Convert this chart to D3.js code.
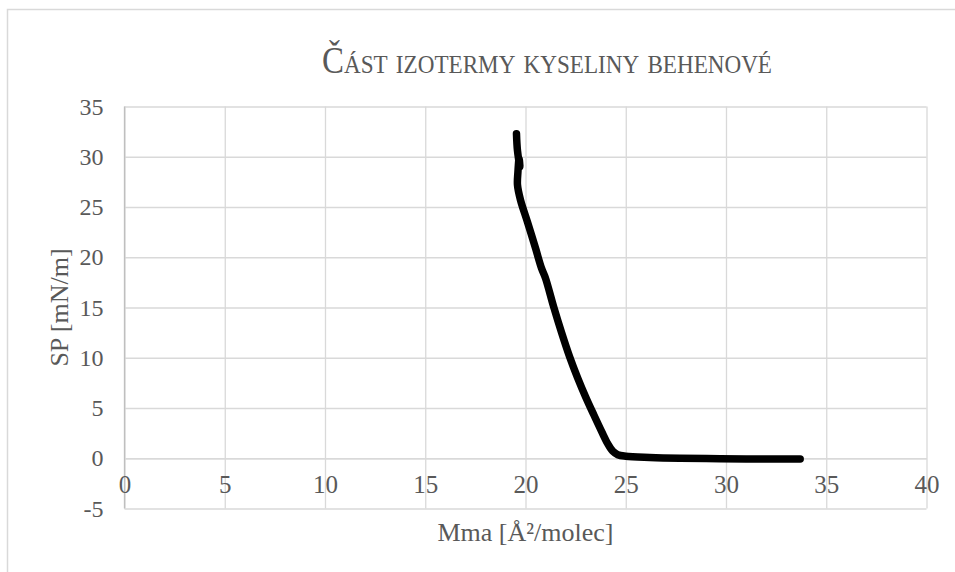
<!DOCTYPE html>
<html><head><meta charset="utf-8">
<script src="https://cdn.jsdelivr.net/npm/d3@7"></script>
<style>
html,body{margin:0;padding:0;background:#fff;}
svg{display:block;font-family:"Liberation Serif","Times New Roman",serif;}
</style></head>
<body>
<svg id="chart" width="955" height="572"></svg>
<script>
// ---- data ----
const mma = [19.55, 19.6, 19.72, 19.68, 19.62, 19.6, 19.75, 20.1, 20.5, 20.8, 21.0, 21.4, 21.8, 22.2, 22.6, 23.0, 23.4, 23.8, 24.1, 24.35, 24.6, 25.0, 26.2, 27.7, 29.7, 31.7, 33.7];
const sp  = [32.3, 30.6, 29.0, 29.8, 28.4, 27.2, 25.7, 23.5, 20.9, 18.9, 17.9, 15.1, 12.5, 10.1, 8.0, 6.1, 4.35, 2.65, 1.45, 0.7, 0.35, 0.2, 0.08, 0.0, -0.05, -0.08, -0.08];
const xTicks = [0, 5, 10, 15, 20, 25, 30, 35, 40];
const yTicks = [-5, 0, 5, 10, 15, 20, 25, 30, 35];
const titleText = "Část izotermy kyseliny behenové";
const xTitle = "Mma [Å²/molec]";
const yTitle = "SP [mN/m]";

const svg = d3.select("#chart");
const grid = "#d9d9d9", txt = "#595959";
const pLeft = 124.5, pRight = 926.5, pTop = 106.5, pBottom = 508.5;
const x = d3.scaleLinear().domain([0, 40]).range([pLeft, pRight]);
const y = d3.scaleLinear().domain([-5, 35]).range([pBottom, pTop]);

// outer chart border
svg.append("rect").attr("x", 7.5).attr("y", 9.5).attr("width", 1200).attr("height", 1200)
  .attr("fill", "none").attr("stroke", grid).attr("stroke-width", 1.5);

// title (small caps, condensed)
svg.append("text").attr("x", 547).attr("y", 73).attr("text-anchor", "middle")
  .attr("fill", txt).attr("font-size", 37).style("font-variant", "small-caps")
  .attr("textLength", 450).attr("lengthAdjust", "spacingAndGlyphs").text(titleText);

// gridlines + y labels
const gy = svg.append("g").attr("transform", `translate(${pLeft},0)`)
  .call(d3.axisLeft(y).tickValues(yTicks).tickSize(-(pRight - pLeft)).tickPadding(21).tickFormat(d => String(d)));
gy.select(".domain").remove();
gy.selectAll(".tick line").attr("stroke", grid).attr("stroke-width", 1.3);
gy.selectAll(".tick text").attr("fill", txt).attr("font-size", 24).attr("font-family", "Liberation Serif");

const gx = svg.append("g").attr("transform", `translate(0,${pBottom})`)
  .call(d3.axisBottom(x).tickValues(xTicks).tickSize(-(pBottom - pTop)).tickFormat(""));
gx.select(".domain").remove();
gx.selectAll(".tick line").attr("stroke", grid).attr("stroke-width", 1.3);

// y axis line (x = 0)
svg.append("line").attr("x1", x(0)).attr("x2", x(0)).attr("y1", pTop).attr("y2", pBottom)
  .attr("stroke", "#bfbfbf").attr("stroke-width", 1.3);

// x tick labels at y = 0 crossing
const gl = svg.append("g").attr("transform", `translate(0,${y(0)})`)
  .call(d3.axisBottom(x).tickValues(xTicks).tickSize(0).tickPadding(17).tickFormat(d => String(d)));
gl.select(".domain").attr("stroke", grid).attr("stroke-width", 1.3);
gl.selectAll(".tick text").attr("fill", txt).attr("font-size", 25).attr("font-family", "Liberation Serif");

// axis titles
svg.append("text").attr("x", (pLeft + pRight) / 2).attr("y", 541).attr("text-anchor", "middle")
  .attr("font-size", 26).attr("fill", txt).text(xTitle);
svg.append("text").attr("transform", `translate(68,${(pTop + pBottom) / 2}) rotate(-90)`)
  .attr("text-anchor", "middle").attr("font-size", 26).attr("fill", txt).text(yTitle);

// curve
const pts = mma.map((d, i) => [d, sp[i]]);
svg.append("path").datum(pts)
  .attr("d", d3.line().x(d => x(d[0])).y(d => y(d[1])).curve(d3.curveCatmullRom.alpha(0.5)))
  .attr("fill", "none").attr("stroke", "#000").attr("stroke-width", 7.5)
  .attr("stroke-linecap", "round").attr("stroke-linejoin", "round");
</script>
</body></html>
